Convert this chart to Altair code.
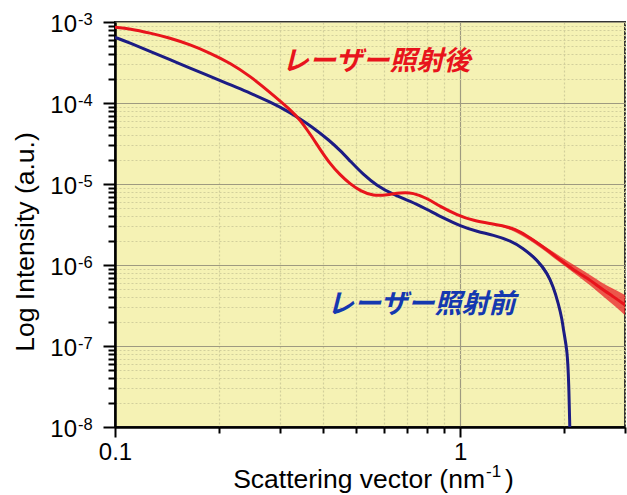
import altair as alt
import pandas as pd

# ---- data ----
after_q = [0.100, 0.1105, 0.1263, 0.1443, 0.1650, 0.1886, 0.2154, 0.2462, 0.2813, 0.3216,
           0.3438, 0.3675, 0.3928, 0.4200, 0.4489, 0.4800, 0.5131, 0.5596, 0.6142, 0.6700,
           0.7307, 0.8023, 0.8750, 0.9802, 1.0906, 1.246, 1.396, 1.492, 1.628, 1.787,
           1.950, 2.126, 2.334, 2.546, 2.777, 3.000]
after_i = [8.60e-4, 8.27e-4, 7.31e-4, 6.35e-4, 5.25e-4, 4.14e-4, 3.12e-4, 2.15e-4, 1.35e-4, 8.31e-5,
           6.17e-5, 4.14e-5, 2.67e-5, 1.77e-5, 1.29e-5, 1.00e-5, 8.20e-6, 7.11e-6, 7.31e-6, 7.81e-6,
           7.81e-6, 6.66e-6, 5.25e-6, 4.14e-6, 3.52e-6, 3.21e-6, 2.92e-6, 2.58e-6, 2.03e-6, 1.53e-6,
           1.15e-6, 8.68e-7, 6.91e-7, 5.20e-7, 4.06e-7, 3.21e-7]

before_q = [0.100, 0.1105, 0.1263, 0.1443, 0.1650, 0.1886, 0.2154, 0.2462, 0.2813, 0.3216,
            0.3438, 0.3675, 0.4200, 0.4489, 0.4800, 0.5235, 0.5747, 0.6393, 0.7163, 0.8023,
            0.8927, 1.000, 1.120, 1.246, 1.396, 1.522, 1.672, 1.787, 1.860, 1.923,
            1.975, 1.988, 2.042, 2.062, 2.076]
before_i = [6.47e-4, 5.50e-4, 4.35e-4, 3.42e-4, 2.70e-4, 2.14e-4, 1.68e-4, 1.33e-4, 1.03e-4, 7.63e-5,
            6.35e-5, 5.27e-5, 3.40e-5, 2.59e-5, 1.92e-5, 1.31e-5, 9.45e-6, 7.42e-6, 6.17e-6, 4.84e-6,
            3.80e-6, 3.03e-6, 2.58e-6, 2.35e-6, 2.00e-6, 1.61e-6, 1.15e-6, 7.89e-7, 5.40e-7, 3.37e-7,
            2.09e-7, 1.58e-7, 8.93e-8, 3.49e-8, 1.00e-8]

# noise envelopes (upper / lower) of the measured curves at high q
after_band_q = [1.246, 1.396, 1.628, 1.950, 2.334, 2.546, 2.777, 3.000]
after_band_hi = [3.25e-6, 3.05e-6, 2.15e-6, 1.26e-6, 7.96e-7, 6.17e-7, 5.05e-7, 4.26e-7]
after_band_lo = [3.17e-6, 2.80e-6, 1.92e-6, 1.06e-6, 5.99e-7, 4.39e-7, 3.21e-7, 2.41e-7]
before_band_q = [1.396, 1.522, 1.672, 1.787, 1.860, 1.923]
before_band_hi = [2.02e-6, 1.67e-6, 1.22e-6, 8.60e-7, 5.83e-7, 3.59e-7]
before_band_lo = [1.98e-6, 1.55e-6, 1.09e-6, 7.25e-7, 5.00e-7, 3.15e-7]

x_ticks = [0.1, 0.2, 0.3, 0.4, 0.5, 0.6, 0.7, 0.8, 0.9, 1, 2, 3]
y_decades = [1e-8, 1e-7, 1e-6, 1e-5, 1e-4, 1e-3]
y_exps = ["-8", "-7", "-6", "-5", "-4", "-3"]
y_mant = [1, 2, 3, 4, 5, 6, 7, 8, 9]
y_ticks = [m * d for d in y_decades[:-1] for m in y_mant] + [1e-3]

labels_txt = ["レーザー照射後", "レーザー照射前"]
labels_q = [0.571, 0.771]
labels_i = [3.21e-4, 3.21e-7]

# ---- styles ----
BG = "#f5f2b4"
GRID_MAJOR = "#9e9a80"
GRID_MINOR = "#d2cf9c"
RED = "#e8141c"
BLUE_LINE = "#1c1c84"
BLUE_TEXT = "#1438b0"
FONT = "Liberation Sans"

x_major = "datum.value == 0.1 || datum.value == 1"
y_major = "abs(log(datum.value)/LN10 - round(log(datum.value)/LN10)) < 0.000001"

xscale = alt.Scale(type="log", domain=[0.1, 3], nice=False)
yscale = alt.Scale(type="log", domain=[1e-8, 1e-3], nice=False)

xaxis = alt.Axis(
    values=x_ticks, title=None,
    labelExpr="datum.value == 0.1 ? '0.1' : (datum.value == 1 ? '1' : '')",
    labelFontSize=24, labelFont=FONT, labelColor="black", labelPadding=3,
    labelFlush=False, labelOverlap=False,
    tickSize={"condition": {"test": x_major, "value": 10}, "value": 6},
    tickWidth=2, tickColor="black",
    domainColor="black", domainWidth=2.5,
    grid=True,
    gridColor={"condition": {"test": x_major, "value": GRID_MAJOR}, "value": GRID_MINOR},
    gridDash={"condition": {"test": x_major, "value": [1, 0]}, "value": [2, 2]},
    gridWidth=1.2,
)
yaxis = alt.Axis(
    values=y_ticks, title=None, labels=False,
    tickSize={"condition": {"test": y_major, "value": 12}, "value": 7},
    tickWidth=2, tickColor="black",
    domainColor="black", domainWidth=2.5,
    grid=True,
    gridColor={"condition": {"test": y_major, "value": GRID_MAJOR}, "value": GRID_MINOR},
    gridDash={"condition": {"test": y_major, "value": [1, 0]}, "value": [2, 2]},
    gridWidth=1.2,
)

df_before = pd.DataFrame({"q": before_q, "i": before_i})
df_after = pd.DataFrame({"q": after_q, "i": after_i})
df_ab = pd.DataFrame({"q": after_band_q, "i": after_band_hi, "i2": after_band_lo})
df_bb = pd.DataFrame({"q": before_band_q, "i": before_band_hi, "i2": before_band_lo})

blue = alt.Chart(df_before).mark_line(color=BLUE_LINE, strokeWidth=3, interpolate="basis", clip=True).encode(
    x=alt.X("q:Q", scale=xscale, axis=xaxis),
    y=alt.Y("i:Q", scale=yscale, axis=yaxis),
)
blue_band = alt.Chart(df_bb).mark_area(color=BLUE_LINE, opacity=0.7, interpolate="basis", clip=True).encode(
    x=alt.X("q:Q", scale=xscale),
    y=alt.Y("i:Q", scale=yscale),
    y2="i2:Q",
)
red = alt.Chart(df_after).mark_line(color=RED, strokeWidth=3, interpolate="basis", clip=True).encode(
    x=alt.X("q:Q", scale=xscale),
    y=alt.Y("i:Q", scale=yscale),
)
red_band = alt.Chart(df_ab).mark_area(color=RED, opacity=0.7, interpolate="basis", clip=True).encode(
    x=alt.X("q:Q", scale=xscale),
    y=alt.Y("i:Q", scale=yscale),
    y2="i2:Q",
)

df_lab = pd.DataFrame({"q": labels_q, "i": labels_i, "t": labels_txt, "c": ["after", "before"]})
ann = alt.Chart(df_lab).mark_text(
    font="Noto Sans CJK JP", fontSize=27, fontWeight="bold", fontStyle="italic",
    align="center", baseline="middle",
).encode(
    x=alt.X("q:Q", scale=xscale),
    y=alt.Y("i:Q", scale=yscale),
    text="t:N",
    color=alt.Color("c:N", scale=alt.Scale(domain=["after", "before"], range=[RED, BLUE_TEXT]), legend=None),
)

df_y = pd.DataFrame({"i": y_decades, "b": ["10"] * 6, "e": y_exps})
ylab_base = alt.Chart(df_y).mark_text(
    font=FONT, fontSize=24, align="right", baseline="middle", dy=3, color="black"
).encode(x=alt.value(-38), y=alt.Y("i:Q", scale=yscale), text="b:N")
ylab_exp = alt.Chart(df_y).mark_text(
    font=FONT, fontSize=16.5, align="left", baseline="middle", dy=-2, color="black"
).encode(x=alt.value(-37), y=alt.Y("i:Q", scale=yscale), text="e:N")

ytitle = alt.Chart(pd.DataFrame({"t": ["Log Intensity (a.u.)"]})).mark_text(
    font=FONT, fontSize=26.5, angle=270, align="center", baseline="middle", color="black"
).encode(x=alt.value(-89), y=alt.value(220), text="t:N")

xt_main = alt.Chart(pd.DataFrame({"t": ["Scattering vector (nm"]})).mark_text(
    font=FONT, fontSize=26.5, align="right", baseline="alphabetic", color="black"
).encode(x=alt.value(370), y=alt.value(466), text="t:N")
xt_exp = alt.Chart(pd.DataFrame({"t": ["-1"]})).mark_text(
    font=FONT, fontSize=17, align="left", baseline="alphabetic", color="black"
).encode(x=alt.value(371), y=alt.value(455), text="t:N")
xt_close = alt.Chart(pd.DataFrame({"t": [")"]})).mark_text(
    font=FONT, fontSize=26.5, align="left", baseline="alphabetic", color="black"
).encode(x=alt.value(390), y=alt.value(466), text="t:N")

chart = alt.layer(
    blue, blue_band, red, red_band, ann, ylab_base, ylab_exp, ytitle, xt_main, xt_exp, xt_close
).properties(
    width=510, height=405,
    padding={"left": 115, "top": 22, "right": 2, "bottom": 68},
    autosize=alt.AutoSizeParams(type="none"),
    background="white",
).configure_view(
    fill=BG, stroke="#333333", strokeWidth=2,
)

chart.save("out.html", embed_options={"renderer": "svg", "actions": False})
